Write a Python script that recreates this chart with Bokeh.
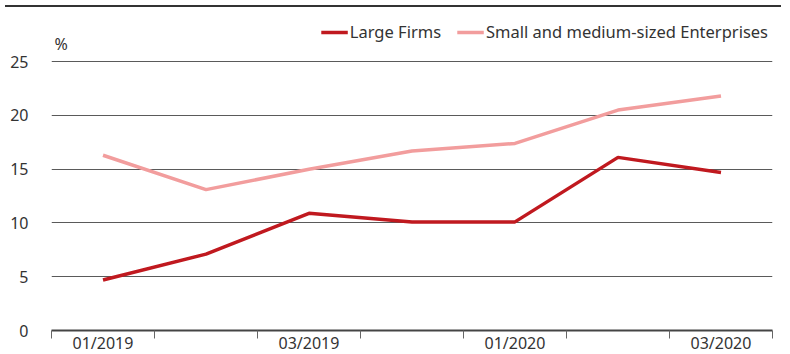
from bokeh.plotting import figure
from bokeh.models import (FixedTicker, LinearAxis, Range1d, Legend, LegendItem,
                          Div, ColumnDataSource)
from bokeh.layouts import column
from bokeh.core.properties import value
from bokeh.embed import file_html
from bokeh.resources import INLINE

# ---- data ----
quarters = ["01/2019", "02/2019", "03/2019", "04/2019", "01/2020", "02/2020", "03/2020"]
shown_labels = ["01/2019", "03/2019", "01/2020", "03/2020"]
large_firms = [4.7, 7.1, 10.9, 10.1, 10.1, 16.1, 14.7]
sme = [16.3, 13.1, 15.0, 16.7, 17.4, 20.5, 21.8]
y_ticks = [0, 5, 10, 15, 20, 25]

FONT = "Noto Sans"
TXT = "#333333"
DARK = "#c0191f"
LIGHT = "#f29d9d"

xs = [i + 0.5 for i in range(len(quarters))]
src = ColumnDataSource(dict(x=xs, large=large_firms, sme=sme))

p = figure(width=774, height=344, output_backend="svg", toolbar_location=None,
           x_range=Range1d(0, len(quarters)), y_range=Range1d(0, 29.2),
           min_border_left=51, min_border_right=2, min_border_top=4,
           min_border_bottom=18)
p.outline_line_color = None
p.background_fill_color = "white"
p.border_fill_color = "white"

r1 = p.line("x", "large", source=src, line_color=DARK, line_width=3.5)
r2 = p.line("x", "sme", source=src, line_color=LIGHT, line_width=3.5)

# y axis
p.yaxis.ticker = FixedTicker(ticks=y_ticks)
p.yaxis.axis_line_color = None
p.yaxis.major_tick_line_color = None
p.yaxis.minor_tick_line_color = None
p.yaxis.major_label_standoff = 17
p.yaxis.major_label_text_font = FONT
p.yaxis.major_label_text_font_size = "16px"
p.yaxis.major_label_text_color = TXT

p.ygrid.ticker = FixedTicker(ticks=y_ticks)
p.ygrid.grid_line_color = "#5a5a5a"
p.ygrid.grid_line_width = 1
p.xgrid.grid_line_color = None

# x axis: ticks at band boundaries
p.xaxis.ticker = FixedTicker(ticks=list(range(len(quarters) + 1)), minor_ticks=[])
p.xaxis.major_label_overrides = {i: "" for i in range(len(quarters) + 1)}
p.xaxis.major_label_text_font_size = "1px"
p.xaxis.major_label_standoff = 0
p.xaxis.axis_line_color = "#444444"
p.xaxis.axis_line_width = 2
p.xaxis.major_tick_line_color = "#666666"
p.xaxis.major_tick_out = 8
p.xaxis.major_tick_in = 0
p.xaxis.minor_tick_line_color = None

label_pos = [quarters.index(q) + 0.5 for q in shown_labels]
ax2 = LinearAxis(ticker=FixedTicker(ticks=label_pos, minor_ticks=[]),
                 major_label_overrides={pos: q for pos, q in zip(label_pos, shown_labels)},
                 axis_line_color=None, major_tick_line_color=None,
                 major_tick_out=0, major_tick_in=0,
                 minor_tick_line_color=None, major_label_standoff=-7,
                 major_label_text_font=FONT, major_label_text_font_size="16px",
                 major_label_text_color=TXT)
p.add_layout(ax2, "below")

# % unit label
p.text(x=[0.03], y=[26.6], text=["%"], text_font=value(FONT), text_font_size="16px",
       text_color=TXT, text_baseline="middle", text_align="left")

legend = Legend(items=[LegendItem(label="Large Firms", renderers=[r1]),
                       LegendItem(label="Small and medium-sized Enterprises", renderers=[r2])],
                location="top_right", orientation="horizontal",
                label_text_font=FONT, label_text_font_size="16.5px", label_text_color=TXT,
                glyph_width=27, glyph_height=20, label_standoff=2, spacing=16,
                padding=0, margin=4, background_fill_alpha=0, border_line_color=None)
p.add_layout(legend)

top_rule = Div(text="", width=776, height=2, styles={"background-color": "#333333"})
layout = column(top_rule, p, spacing=0)

open("out.html", "w").write(file_html(layout, INLINE))
